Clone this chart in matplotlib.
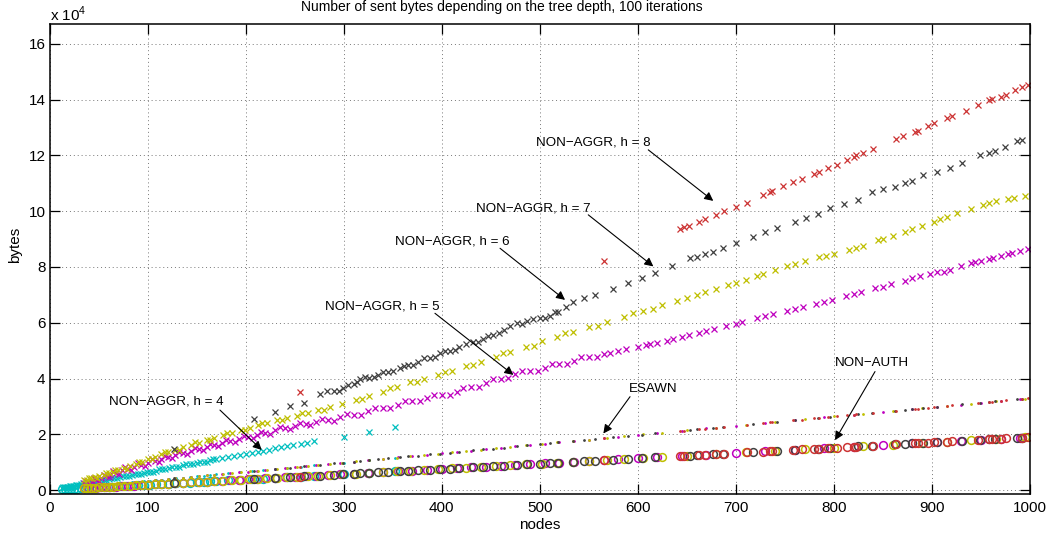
import matplotlib
matplotlib.use("Agg")
import matplotlib.pyplot as plt

plt.rcParams['font.family'] = ['Liberation Sans', 'DejaVu Sans']
plt.rcParams['mathtext.fontset'] = 'custom'
plt.rcParams['mathtext.rm'] = 'Liberation Sans'

# ---------------- data (bytes) ----------------
# h = 4 (cyan)
h4_nodes = [13, 16, 19, 22, 25, 28, 32, 36, 40, 45, 50, 55, 60, 66, 72, 78, 84, 90, 96, 102, 108, 115, 122, 129,
            136, 143, 150, 157, 164, 170, 182, 194, 206, 218, 230, 242, 256, 270, 300, 326, 352]
h4_nonaggr = [900, 1050, 1250, 1450, 1600, 1850, 2100, 2300, 2600, 2950, 3250, 3600, 3900, 4300, 4700, 5050, 5500,
              5850, 6250, 6650, 7000, 7450, 7950, 8400, 8850, 9300, 9750, 10200, 10650, 11050, 11800, 12600, 13400,
              14150, 14950, 15750, 16600, 17500, 19000, 20800, 22600]
h4_esawn = [430, 530, 630, 730, 830, 920, 1060, 1190, 1320, 1490, 1650, 1820, 1980, 2180, 2380, 2570, 2770, 2970,
            3170, 3370, 3560, 3800, 4030, 4260, 4490, 4720, 4950, 5180, 5410, 5610, 6010, 6400, 6800, 7190, 7590,
            7990, 8450, 8910, 9900, 10760, 11620]
h4_nonauth = [250, 300, 360, 420, 480, 530, 610, 680, 760, 860, 950, 1050, 1140, 1250, 1370, 1480, 1600, 1710,
              1820, 1940, 2050, 2190, 2320, 2450, 2580, 2720, 2850, 2980, 3120, 3230, 3460, 3690, 3910, 4140, 4370,
              4600, 4860, 5130, 5700, 6190, 6690]
h4_extra_nodes = [14, 18, 21, 24, 27, 30, 34, 38, 42, 47, 52, 57, 63, 69, 75, 81, 87, 93, 99, 105, 112, 118, 125,
                  132, 139, 146, 153, 160, 167, 176, 188, 200, 212, 224, 236, 248, 262]
h4_extra_nonaggr = [1110, 970, 1570, 1360, 1955, 1750, 2410, 2270, 2930, 2855, 3580, 3505, 4295, 4285, 5075, 5065,
                    5855, 5845, 6635, 6625, 7480, 7470, 8325, 8380, 9235, 9290, 10145, 10200, 11055, 11440, 12220,
                    13000, 13780, 14560, 15340, 16120, 17030]

# h = 5 (magenta)
h5_nodes = [35, 39, 43, 47, 52, 57, 62, 68, 74, 80, 86, 93, 100, 107, 114, 121, 128, 136, 144, 152, 160, 168, 176,
            184, 193, 202, 211, 220, 230, 240, 250, 261, 272, 284, 296, 310, 325, 340, 355, 370, 385, 400, 415, 430,
            445, 460, 475, 490, 505, 520, 535, 550, 565, 580, 600, 620, 645, 670, 700, 730, 760, 790, 820, 850, 880,
            905, 930, 950, 970, 990]
h5_nonaggr = [2400, 2900, 3400, 3800, 4400, 5000, 5600, 6300, 7100, 7700, 8400, 9100, 9800, 10500, 11200, 11800,
              12500, 13200, 14000, 14700, 15400, 16100, 16900, 17600, 18400, 19100, 19900, 20500, 21400, 22200,
              22900, 23700, 24500, 25200, 26100, 27100, 28200, 29400, 30600, 31800, 32900, 34100, 35200, 36800,
              38300, 39900, 41500, 42600, 43900, 45200, 46400, 47600, 48800, 50000, 51400, 52800, 55000, 57100,
              59600, 62300, 64900, 67600, 70300, 73000, 75900, 78100, 80400, 82200, 83900, 85600]
h5_esawn = [1160, 1290, 1420, 1550, 1720, 1880, 2050, 2240, 2440, 2640, 2840, 3070, 3300, 3530, 3760, 3990, 4220,
            4490, 4750, 5020, 5280, 5540, 5810, 6070, 6370, 6670, 6960, 7260, 7590, 7920, 8250, 8610, 8980, 9370,
            9770, 10230, 10730, 11220, 11720, 12210, 12710, 13200, 13700, 14190, 14690, 15180, 15680, 16170, 16670,
            17160, 17660, 18150, 18650, 19140, 19800, 20460, 21290, 22110, 23100, 24090, 25080, 26070, 27060,
            28050, 29040, 29870, 30690, 31350, 32010, 32670]
h5_nonauth = [670, 740, 820, 890, 990, 1080, 1180, 1290, 1410, 1520, 1630, 1770, 1900, 2030, 2170, 2300, 2430,
              2580, 2740, 2890, 3040, 3190, 3340, 3500, 3670, 3840, 4010, 4180, 4370, 4560, 4750, 4960, 5170, 5400,
              5620, 5890, 6180, 6460, 6750, 7030, 7320, 7600, 7890, 8170, 8460, 8740, 9030, 9310, 9600, 9880, 10170,
              10450, 10740, 11020, 11400, 11780, 12260, 12730, 13300, 13870, 14440, 15010, 15580, 16150, 16720,
              17200, 17670, 18050, 18430, 18810]
h5_extra_nodes = [37, 41, 45, 50, 55, 60, 65, 71, 77, 83, 90, 97, 104, 111, 118, 125, 132, 140, 148, 156, 164, 172,
                  180, 189, 198, 207, 216, 225, 235, 245, 255, 266, 278, 290, 303, 318, 332, 347, 362, 378, 392, 408,
                  422, 438, 452, 468, 482, 498, 512, 528, 542, 558,
                  572, 588, 608, 612, 630, 636, 652, 662, 678, 690, 706, 722, 738, 752, 768, 782, 798, 812, 828, 842,
                  858, 872, 888, 898, 912, 918, 940, 944, 958, 962, 978, 982, 998]
h5_extra_nonaggr = [3450, 2350, 4400, 3350, 5550, 4550, 6750, 5900, 8200, 7250, 9600, 8700, 11000, 10100, 12400,
                    11400, 13650, 12800, 15150, 14250, 16550, 15700, 18050, 17250, 19550, 18750, 21000, 20150,
                    22600, 21750, 24050, 23250, 25650, 24850, 27200, 27100, 29400, 29400, 31800, 31800, 34100,
                    34100, 36600, 37000, 39700, 40200, 42600, 42600, 45100, 45200, 47600, 47600,
                    49300, 50500, 52000, 52300, 53600, 54100, 55600, 56400, 57800, 58800, 60200, 61600, 63000,
                    64200, 65600, 66900, 68300, 69600, 71000, 72300, 73800, 75100, 76600, 77600, 78300, 78800,
                    81300, 81700, 82900, 83300, 84600, 85000, 86300]

# h = 6 (yellow)
h6_nodes = [35, 38, 42, 46, 50, 55, 60, 65, 70, 76, 82, 88, 94, 100, 107, 114, 121, 128, 136, 144, 152, 160, 168,
            177, 186, 195, 204, 213, 222, 232, 242, 252, 263, 274, 286, 298, 312, 326, 340, 354, 368, 382, 396, 410,
            425, 440, 455, 470, 486, 502, 518, 534, 550, 568, 586, 605, 625, 650, 680, 710, 740, 770, 800, 830, 860,
            890, 915, 940, 965, 995]
h6_nonaggr = [3500, 3800, 4200, 4700, 5000, 5500, 6000, 6600, 7100, 7800, 8600, 9300, 10200, 11000, 11900, 12800,
              13600, 14400, 15400, 16300, 17000, 17900, 18800, 19700, 20600, 21500, 22400, 23200, 24100, 25000,
              25900, 26700, 27700, 28700, 29900, 30800, 32300, 33800, 35300, 37100, 38800, 39900, 41200, 42800,
              44400, 46100, 47900, 49600, 51400, 53300, 55000, 56800, 58500, 60300, 62100, 64100, 66200, 69000,
              72100, 75500, 78900, 82200, 84700, 87700, 91200, 94800, 98000, 100700, 103800, 105300]
h6_esawn = [1160, 1250, 1390, 1520, 1650, 1820, 1980, 2150, 2310, 2510, 2710, 2900, 3100, 3300, 3530, 3760, 3990,
            4220, 4490, 4750, 5020, 5280, 5540, 5840, 6140, 6440, 6730, 7030, 7330, 7660, 7990, 8320, 8680, 9040,
            9440, 9830, 10300, 10760, 11220, 11680, 12140, 12610, 13070, 13530, 14030, 14520, 15020, 15510, 16040,
            16570, 17090, 17620, 18150, 18740, 19340, 19970, 20630, 21450, 22440, 23430, 24420, 25410, 26400,
            27390, 28380, 29370, 30200, 31020, 31850, 32840]
h6_nonauth = [670, 720, 800, 870, 950, 1050, 1140, 1240, 1330, 1440, 1560, 1670, 1790, 1900, 2030, 2170, 2300,
              2430, 2580, 2740, 2890, 3040, 3190, 3360, 3530, 3710, 3880, 4050, 4220, 4410, 4600, 4790, 5000, 5210,
              5430, 5660, 5930, 6190, 6460, 6730, 6990, 7260, 7520, 7790, 8080, 8360, 8650, 8930, 9230, 9540, 9840,
              10150, 10450, 10790, 11130, 11500, 11880, 12350, 12920, 13490, 14060, 14630, 15200, 15770, 16340,
              16910, 17390, 17860, 18340, 18910]
h6_extra_nodes = [40, 48, 57, 67, 79, 91, 104, 118, 132, 148, 164, 181, 199, 217, 237, 257, 280, 319, 347, 375, 403,
                  432, 462, 494, 526, 559, 595,
                  615, 640, 660, 668, 692, 700, 722, 728, 752, 760, 785, 792, 815, 822, 845, 850, 872, 880, 902, 908,
                  926, 952, 958, 978, 984]
h6_extra_nonaggr = [4500, 4300, 6200, 7300, 7700, 10200, 11000, 13700, 14400, 17100, 17800, 20600, 21400, 24100,
                    25000, 27700, 28800, 32500, 36700, 38850, 42500, 44700, 49200, 51800, 56400, 58900, 63500,
                    65100, 67900, 70000, 70900, 73500, 74400, 76900, 77500, 80200, 81100, 83500, 84100, 86200,
                    86900, 89500, 90000, 92600, 93600, 96300, 97100, 99200, 102200, 103000, 104500, 104800]

# h = 7 (dark grey)
h7_nodes = [127, 208, 230, 245, 259, 276, 290, 299, 310, 317, 326, 335, 345, 357, 366, 376, 388, 398, 408, 418,
            432, 442, 452, 463, 477, 487, 500, 510, 519, 534, 545, 556, 575, 590, 604, 617, 653, 660, 677, 687, 717,
            742, 760, 784, 796, 825, 839, 862, 873, 880, 891, 905, 931, 949, 958, 964, 987, 992]
h7_nonaggr = [14700, 25500, 28000, 30000, 31200, 34500, 35500, 36500, 38200, 40000, 40200, 41200, 42400, 43800,
              44800, 46100, 47500, 49000, 50000, 51200, 53000, 54200, 55600, 57500, 59800, 60500, 61700, 62600,
              64000, 67600, 68800, 70000, 72200, 74200, 76000, 77800, 83300, 83500, 85500, 86800, 90800, 94000,
              96000, 99000, 101000, 104000, 107000, 108800, 110000, 111000, 113000, 114000, 117300, 120000, 121000,
              121500, 125000, 125700]
h7_esawn = [4190, 6860, 7590, 8090, 8550, 9110, 9570, 9870, 10230, 10460, 10760, 11060, 11390, 11780, 12080,
            12410, 12800, 13130, 13460, 13790, 14260, 14590, 14920, 15280, 15740, 16070, 16500, 16830, 17130, 17620,
            17990, 18350, 18980, 19470, 19930, 20360, 21550, 21780, 22340, 22670, 23660, 24490, 25080, 25870,
            26270, 27230, 27690, 28450, 28810, 29040, 29400, 29870, 30720, 31320, 31610, 31810, 32570, 32740]
h7_nonauth = [2410, 3950, 4370, 4660, 4920, 5240, 5510, 5680, 5890, 6020, 6190, 6370, 6560, 6780, 6950, 7140,
              7370, 7560, 7750, 7940, 8210, 8400, 8590, 8800, 9060, 9250, 9500, 9690, 9860, 10150, 10360, 10560,
              10930, 11210, 11480, 11720, 12410, 12540, 12860, 13050, 13620, 14100, 14440, 14900, 15120, 15680,
              15940, 16380, 16590, 16720, 16930, 17200, 17690, 18030, 18200, 18320, 18750, 18850]
h7_extra_nodes = [283, 295, 304, 313, 322, 331, 340, 350, 361, 371, 382, 393, 403, 413, 425, 437, 447, 458, 470, 482,
                  493, 505, 515, 527, 635, 668, 700, 730, 772, 810, 850, 918, 975]
h7_extra_nonaggr = [35400, 35700, 37800, 38600, 40500, 40400, 42200, 42600, 44600, 45000, 47200, 47800, 49900,
                    50200, 52500, 53200, 55300, 56200, 59000, 59700, 61500, 61700, 63700, 65500, 80500, 84500,
                    88500, 92500, 97500, 102500, 108000, 115500, 123000]

# h = 8 (red)
h8_nodes = [255, 565, 643, 647, 662, 668, 680, 688, 711, 728, 735, 737, 758, 767, 780, 785, 794, 803, 813, 820,
            823, 840, 863, 883, 886, 896, 902, 915, 920, 947, 958, 961, 970, 976, 992, 998]
h8_nonaggr = [35200, 82200, 93700, 94200, 96200, 97300, 98700, 100000, 103000, 105800, 106800, 107200, 110500,
              111500, 113500, 114000, 115500, 116700, 118500, 119500, 120000, 122300, 126000, 128500, 128700,
              130700, 131700, 133500, 134000, 138000, 140000, 140200, 141000, 141800, 144700, 145400]
h8_esawn = [8420, 18650, 21220, 21350, 21850, 22040, 22440, 22700, 23460, 24020, 24260, 24320, 25010, 25310, 25740,
            25910, 26200, 26500, 26830, 27060, 27160, 27720, 28480, 29140, 29240, 29570, 29770, 30200, 30360,
            31250, 31610, 31710, 32010, 32210, 32740, 32930]
h8_nonauth = [4850, 10740, 12220, 12290, 12580, 12690, 12920, 13070, 13510, 13830, 13970, 14000, 14400, 14570,
              14820, 14920, 15090, 15260, 15450, 15580, 15640, 15960, 16400, 16780, 16830, 17020, 17140, 17390,
              17480, 17990, 18200, 18260, 18430, 18540, 18850, 18960]
h8_extra_nodes = [652, 700, 748, 830, 870, 935, 985]
h8_extra_nonaggr = [94800, 101500, 109000, 121000, 127000, 136000, 143500]

series_colors = ['#00bfbf', '#bf00bf', '#bfbf00', '#404040', '#cc3333']

x_ticks = [0, 100, 200, 300, 400, 500, 600, 700, 800, 900, 1000]
y_ticks = [0, 20000, 40000, 60000, 80000, 100000, 120000, 140000, 160000]
y_tick_labels = ['0', '2', '4', '6', '8', '10', '12', '14', '16']

title = 'Number of sent bytes depending on the tree depth, 100 iterations'

# annotation: label, text position, arrow tail, arrow tip (data coords)
annotations = [
    ('NON\u2212AGGR, h = 4', (118.6, 31600), (173.7, 28700), (216.3, 14400)),
    ('NON\u2212AGGR, h = 5', (339.0, 65700), (393.0, 63400), (473.0, 41300)),
    ('NON\u2212AGGR, h = 6', (410.4, 89000), (459.4, 86700), (525.7, 68200)),
    ('NON\u2212AGGR, h = 7', (493.5, 100900), (549.4, 98700), (615.8, 80200)),
    ('NON\u2212AGGR, h = 8', (554.7, 124500), (610.6, 122000), (676.9, 103700)),
    ('ESAWN', (616.0, 36300), (592.0, 33500), (564.8, 20300)),
    ('NON\u2212AUTH', (838.8, 45600), (841.9, 42500), (801.1, 17900)),
]

# ---------------- figure ----------------
fig = plt.figure(figsize=(10.55, 5.37), dpi=100)
ax = fig.add_axes([0.0471, 0.0795, 0.9292, 0.8752])

groups = [
    (h4_nodes, h4_nonaggr, h4_esawn, h4_nonauth, h4_extra_nodes, h4_extra_nonaggr),
    (h5_nodes, h5_nonaggr, h5_esawn, h5_nonauth, h5_extra_nodes, h5_extra_nonaggr),
    (h6_nodes, h6_nonaggr, h6_esawn, h6_nonauth, h6_extra_nodes, h6_extra_nonaggr),
    (h7_nodes, h7_nonaggr, h7_esawn, h7_nonauth, h7_extra_nodes, h7_extra_nonaggr),
    (h8_nodes, h8_nonaggr, h8_esawn, h8_nonauth, h8_extra_nodes, h8_extra_nonaggr),
]
for (nodes, nonaggr, esawn, nonauth, xnodes, xnonaggr), col in zip(groups, series_colors):
    ax.plot(nodes, nonaggr, linestyle='none', marker='x', markersize=3.8, mew=0.9, color=col)
    ax.plot(xnodes, xnonaggr, linestyle='none', marker='x', markersize=3.8, mew=0.9, color=col)
    ax.plot(nodes, esawn, linestyle='none', marker='.', markersize=4.0, mew=0, color=col)
    ax.plot(nodes, nonauth, linestyle='none', marker='o', markersize=5.6, mew=1.1, mfc='none', mec=col)

ax.set_xlim(0, 1000)
ax.set_ylim(-1500, 167000)
ax.set_xticks(x_ticks)
ax.set_xticklabels([str(t) for t in x_ticks])
ax.set_yticks(y_ticks)
ax.set_yticklabels(y_tick_labels)
ax.tick_params(direction='in', length=7, width=0.9, top=True, right=True, labelsize=11, colors='k')
ax.tick_params(axis='x', pad=5)
ax.tick_params(axis='y', pad=3)
for s in ax.spines.values():
    s.set_linewidth(1.1)
ax.grid(True, linestyle=(0, (1, 3)), color='#777777', linewidth=0.7)
ax.set_axisbelow(True)

for label, tpos, tail, tip in annotations:
    ax.text(tpos[0], tpos[1], label, ha='center', va='center', fontsize=9.6)
    ax.annotate('', xy=tip, xytext=tail,
                arrowprops=dict(arrowstyle='-|>', color='k', lw=0.8, mutation_scale=13,
                                shrinkA=0, shrinkB=0))

fig.text(501.5 / 1055, 1 - 7 / 537, title, ha='center', va='center', fontsize=10)
fig.text(50 / 1055, 1 - 21 / 537, r'x 10$^{4}$', ha='left', va='baseline', fontsize=11)
fig.text(540 / 1055, 1 - 525 / 537, 'nodes', ha='center', va='center', fontsize=11)
fig.text(15 / 1055, 1 - 245 / 537, 'bytes', ha='center', va='center', rotation=90, fontsize=11)

fig.savefig('out.png', dpi=100)
